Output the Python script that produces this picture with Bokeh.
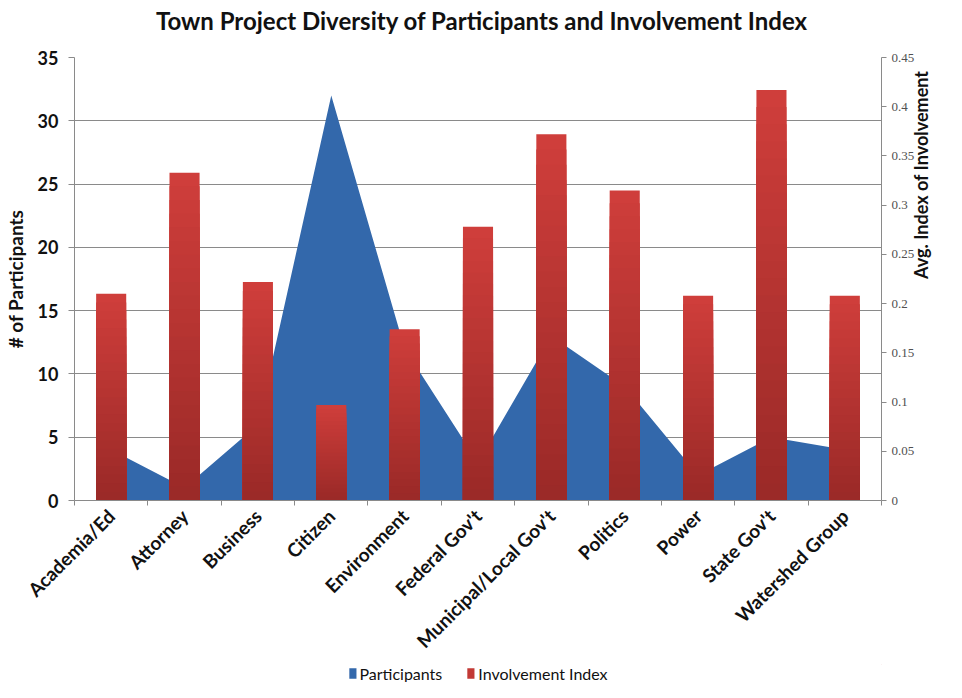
import numpy as np
from bokeh.plotting import figure
from bokeh.layouts import column
from bokeh.models import (Range1d, LinearAxis, FixedTicker, Legend, LegendItem,
                          NumeralTickFormatter, Label)
from bokeh.embed import file_html
from bokeh.resources import INLINE

# ---------------- data ----------------
title_text = "Town Project Diversity of Participants and Involvement Index"
categories = ["Academia/Ed", "Attorney", "Business", "Citizen", "Environment",
              "Federal Gov't", "Municipal/Local Gov't", "Politics", "Power",
              "State Gov't", "Watershed Group"]
participants = [4, 1, 6, 32, 12, 3, 13, 9, 2, 5, 4]
involvement = [0.210, 0.333, 0.222, 0.097, 0.174, 0.278, 0.372, 0.315, 0.208, 0.417, 0.208]
left_ticks = [0, 5, 10, 15, 20, 25, 30, 35]
right_ticks = [0, 0.05, 0.1, 0.15, 0.2, 0.25, 0.3, 0.35, 0.4, 0.45]
series_names = ["Participants", "Involvement Index"]

FONT = "Lato"
BLUE = "#3368ab"
RED = "#c23935"
W = 946
xc = np.arange(len(categories)) + 0.5
inv = np.array(involvement)

# ---------------- title strip ----------------
t = figure(width=W, height=40, output_backend="svg", toolbar_location=None,
           x_range=Range1d(0, 1), y_range=Range1d(0, 1), min_border=0)
t.axis.visible = False
t.grid.visible = False
t.outline_line_color = None
t.border_fill_color = "white"
t.add_layout(Label(x=0.505, y=0.5, text=title_text, text_align="center",
                   text_baseline="middle", text_font=FONT, text_font_size="24px",
                   text_font_style="bold", text_color="#111111"))

# ---------------- main chart ----------------
p = figure(width=W, height=624, output_backend="svg", toolbar_location=None,
           x_range=Range1d(0, len(categories)), y_range=Range1d(0, 35),
           min_border_left=73, min_border_right=61, min_border_top=17, min_border_bottom=164)
p.extra_y_ranges = {"idx": Range1d(0, 0.45)}
p.outline_line_color = None
p.background_fill_color = "white"
p.border_fill_color = "white"

# grid
p.xgrid.visible = False
p.ygrid.ticker = FixedTicker(ticks=left_ticks)
p.ygrid.grid_line_color = "#8a8a8a"
p.ygrid.grid_line_width = 1

# area (participants)
area = p.varea(x=xc, y1=0, y2=participants, fill_color=BLUE)

# bars (involvement) with vertical gradient built from overlapping bars
N = 24
top_c = np.array([0xcf, 0x3e, 0x3b])
bot_c = np.array([0x9b, 0x2a, 0x28])
for k in range(N):
    s = k / (N - 1)
    c = (top_c * (1 - s) + bot_c * s).astype(int)
    col = "#%02x%02x%02x" % tuple(c)
    p.vbar(x=xc, bottom=0, top=inv * (N - k) / N, width=0.41,
           fill_color=col, line_color=None, y_range_name="idx")

# x axis
xa = p.xaxis[0]
xa.ticker = FixedTicker(ticks=list(xc), minor_ticks=list(range(len(categories) + 1)))
xa.major_label_overrides = {float(x): c for x, c in zip(xc, categories)}
xa.major_tick_out = 0
xa.major_tick_in = 0
xa.minor_tick_out = 5
xa.minor_tick_in = 0
xa.minor_tick_line_color = "#8a8a8a"
xa.axis_line_color = "#8a8a8a"
xa.major_label_orientation = np.pi / 4
xa.major_label_text_font = FONT
xa.major_label_text_font_style = "bold"
xa.major_label_text_font_size = "19px"
xa.major_label_text_color = "#111111"
xa.major_label_standoff = 7

# left axis
ya = p.yaxis[0]
ya.ticker = FixedTicker(ticks=left_ticks)
ya.axis_label = "# of Participants"
ya.axis_label_text_font = FONT
ya.axis_label_text_font_style = "bold"
ya.axis_label_text_font_size = "19px"
ya.axis_label_text_color = "#111111"
ya.axis_label_standoff = 8
ya.major_label_text_font = FONT
ya.major_label_text_font_style = "bold"
ya.major_label_text_font_size = "18px"
ya.major_label_text_color = "#111111"
ya.major_tick_out = 6
ya.major_tick_in = 0
ya.minor_tick_out = 0
ya.minor_tick_in = 0
ya.axis_line_color = "#8a8a8a"
ya.major_tick_line_color = "#8a8a8a"
ya.major_label_standoff = 10

# right axis
ra = LinearAxis(y_range_name="idx", ticker=FixedTicker(ticks=right_ticks),
                formatter=NumeralTickFormatter(format="0.[00]"))
ra.axis_label = "Avg. Index of Involvement"
ra.axis_label_orientation = np.pi / 2
ra.axis_label_text_font = FONT
ra.axis_label_text_font_style = "bold"
ra.axis_label_text_font_size = "18px"
ra.axis_label_text_color = "#111111"
ra.axis_label_standoff = 4
ra.major_label_text_font = "Liberation Serif"
ra.major_label_text_font_size = "13px"
ra.major_label_text_color = "#505050"
ra.major_tick_out = 5
ra.major_tick_in = 0
ra.minor_tick_out = 0
ra.minor_tick_in = 0
ra.axis_line_color = "#8a8a8a"
ra.major_tick_line_color = "#8a8a8a"
ra.major_label_standoff = 5
p.add_layout(ra, "right")

# ---------------- legend strip (swatch glyphs sit outside the strip's visible range) ----------------
q = figure(width=W, height=18, output_backend="svg", toolbar_location=None,
           x_range=Range1d(0, 1), y_range=Range1d(0, 1), min_border=0)
q.axis.visible = False
q.grid.visible = False
q.outline_line_color = None
q.border_fill_color = "white"
q.background_fill_color = "white"
lg_area = q.varea(x=[5, 6], y1=[5, 5], y2=[6, 6], fill_color=BLUE)
lg_bar = q.vbar(x=[5], bottom=[5], top=[6], width=0.5, fill_color=RED, line_color=None)
legend = Legend(items=[LegendItem(label=series_names[0], renderers=[lg_area]),
                       LegendItem(label=series_names[1], renderers=[lg_bar])],
                orientation="horizontal", location="center",
                label_text_font=FONT, label_text_font_size="16px",
                label_text_color="#111111", glyph_width=9, glyph_height=13,
                spacing=24, label_standoff=3, padding=0, margin=0,
                border_line_color=None, background_fill_alpha=0)
q.add_layout(legend, "center")

layout = column(t, p, q, spacing=0)
open("out.html", "w").write(file_html(layout, INLINE))
